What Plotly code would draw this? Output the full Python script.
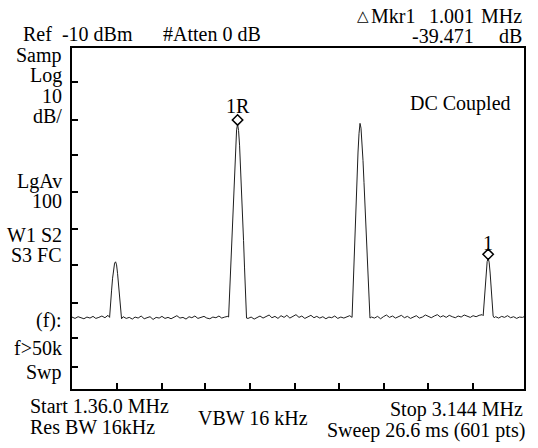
import plotly.graph_objects as go

# ---------------- data ----------------
start_mhz = 1.360
stop_mhz = 3.144
ref_dbm = -10.0
bottom_dbm = -110.0

freq_mhz = [
    1.360, 1.372, 1.384, 1.395, 1.407, 1.419, 1.431, 1.443, 1.454, 1.466, 1.478, 1.490, 1.502,
    1.5084, 1.5124, 1.5163, 1.5202, 1.5241, 1.5281, 1.5320, 1.5359, 1.5399, 1.5438, 1.5477, 1.5517, 1.5556,
    1.562, 1.574, 1.586, 1.598, 1.609, 1.621, 1.633, 1.645, 1.656, 1.668, 1.680, 1.692, 1.704, 1.715,
    1.727, 1.739, 1.751, 1.763, 1.774, 1.786, 1.798, 1.810, 1.822, 1.833, 1.845, 1.857, 1.869, 1.881,
    1.892, 1.904, 1.916, 1.928, 1.940, 1.951, 1.963, 1.975,
    1.9781, 1.9821, 1.9860, 1.9899, 1.9939, 1.9978, 2.0017, 2.0056, 2.0096, 2.0135, 2.0174, 2.0214,
    2.0253, 2.0292, 2.0332, 2.0371, 2.0410, 2.0449, 2.0489,
    2.055, 2.067, 2.079, 2.090, 2.102, 2.114, 2.126, 2.138, 2.149, 2.161, 2.173, 2.185, 2.197, 2.208,
    2.220, 2.232, 2.244, 2.256, 2.267, 2.279, 2.291, 2.303, 2.315, 2.326, 2.338, 2.350, 2.362, 2.374,
    2.385, 2.397, 2.409, 2.421, 2.433, 2.444, 2.456,
    2.4654, 2.4693, 2.4732, 2.4772, 2.4811, 2.4850, 2.4889, 2.4929, 2.4968, 2.5007, 2.5047, 2.5086,
    2.5125, 2.5165, 2.5204, 2.5243, 2.5283, 2.5322, 2.5361,
    2.542, 2.554, 2.566, 2.578, 2.589, 2.601, 2.613, 2.625, 2.637, 2.648, 2.660, 2.672, 2.684, 2.696,
    2.707, 2.719, 2.731, 2.743, 2.755, 2.766, 2.778, 2.790, 2.802, 2.814, 2.825, 2.837, 2.849, 2.861,
    2.873, 2.884, 2.896, 2.908, 2.920, 2.932, 2.943, 2.955, 2.967, 2.979,
    2.9829, 2.9868, 2.9907, 2.9947, 2.9986, 3.0025, 3.0064, 3.0104, 3.0143, 3.0182, 3.0222, 3.0261,
    3.032, 3.044, 3.056, 3.067, 3.079, 3.091, 3.103, 3.115, 3.126, 3.138, 3.144,
]

level_dbm = [
    -88.9, -89.3, -88.8, -89.1, -89.4, -88.9, -89.2, -88.7, -89.3, -89.0, -88.6, -89.1, -88.4,
    -89.0, -86.0, -81.0, -77.5, -74.6, -73.1, -72.7, -73.6, -76.2, -80.0, -84.2, -88.0, -89.4,
    -88.8, -89.3, -89.0, -89.5, -88.9, -89.2, -88.6, -89.4, -89.1, -88.8, -89.6, -89.0, -89.2, -88.7,
    -89.3, -89.0, -89.4, -88.9, -88.5, -89.2, -89.0, -89.5, -88.8, -89.1, -88.6, -89.3, -89.0, -88.7,
    -89.2, -89.4, -88.9, -89.1, -88.6, -89.2, -88.9, -88.7,
    -88.9, -82.0, -74.0, -66.0, -58.0, -51.0, -44.0, -38.0, -34.0, -32.3, -34.2, -38.5,
    -44.5, -51.5, -58.5, -66.5, -74.5, -82.5, -89.2,
    -89.3, -88.9, -89.5, -89.0, -88.6, -89.2, -88.8, -88.3, -89.1, -88.7, -89.3, -88.5, -89.0, -88.4,
    -89.2, -88.8, -88.2, -89.0, -88.6, -89.3, -88.9, -88.4, -89.1, -88.7, -89.2, -88.8, -89.4, -88.9,
    -89.1, -88.6, -89.3, -88.9, -89.2, -88.8, -88.5,
    -89.0, -80.0, -71.0, -62.5, -54.5, -47.0, -40.5, -35.0, -32.1, -33.5, -37.5, -43.0,
    -49.5, -56.5, -63.5, -71.0, -79.0, -86.5, -89.2,
    -88.9, -89.2, -88.7, -89.4, -88.8, -88.3, -89.0, -88.6, -89.2, -88.9, -88.4, -89.1, -88.7, -89.3,
    -88.8, -88.5, -89.2, -88.9, -88.3, -88.7, -89.1, -88.6, -88.2, -88.9, -88.5, -89.0, -88.4, -88.8,
    -89.1, -88.6, -88.9, -88.3, -88.7, -89.0, -88.5, -88.8, -88.4, -88.2,
    -88.5, -84.0, -79.5, -75.5, -72.6, -71.7, -72.8, -76.0, -80.0, -84.5, -88.6, -89.1,
    -88.8, -89.2, -88.7, -89.0, -88.5, -89.1, -88.8, -89.3, -88.9, -89.0, -88.8,
]

marker_labels = ["1R", "1"]
marker_freq_mhz = [2.0135, 3.0025]
marker_level_dbm = [-32.3, -71.7]

# graticule division positions as they appear on the (slightly distorted) screen
xtick_mhz = [1.5368, 1.7137, 1.8866, 2.0634, 2.2402, 2.4131, 2.5899, 2.7668, 2.9436]
ytick_dbm = [-19.97, -31.11, -41.38, -52.23, -63.08, -73.64, -84.78, -95.04, -103.55]

left_labels = ["Samp", "Log", "10", "dB/", "LgAv", "100", "W1 S2", "S3 FC", "(f):", "f>50k", "Swp"]

# ---------------- layout helpers ----------------
W, H = 538, 448
ML, MR, MT, MB = 72, 12, 48, 59
PW, PH = W - ML - MR, H - MT - MB
FONT = "Liberation Serif"
FS = 20
NB = "\u00a0"


def px(x):
    return (x - ML) / PW


def py(y):
    return (MT + PH - y) / PH


annotations = []


def label(text, x, y, xanchor="left", size=FS, family=FONT):
    annotations.append(dict(
        text=text, x=px(x), y=py(y), xref="paper", yref="paper",
        xanchor=xanchor, yanchor="middle", showarrow=False,
        font=dict(family=family, size=size, color="black"),
    ))


# header
label("Ref" + NB + NB + "-10 dBm", 21, 33.5)
label("#Atten 0 dB", 161, 33.5)
label("<b>\u25b3</b>", 364, 16, xanchor="center", size=15, family="DejaVu Sans")
label("Mkr1", 370, 15.5)
label("1.001", 478, 15.5, xanchor="right")
label("MHz", 526, 15.5, xanchor="right")
label("-39.471", 478, 35.5, xanchor="right")
label("dB", 526, 35.5, xanchor="right")
label("DC Coupled", 515, 104, xanchor="right")

# left annotations
left_y = [55.5, 75.5, 95.5, 115.5, 181, 201, 235, 255, 320, 347.5, 372.5]
for t, yy in zip(left_labels, left_y):
    label(t, 64, yy, xanchor="right")

# footer
label("Start 1.36.0 MHz", 28, 406)
label("Res BW 16kHz", 28, 427.5)
label("VBW 16 kHz", 197, 418)
label("Stop 3.144 MHz", 527, 409, xanchor="right")
label("Sweep 26.6 ms (601 pts)", 529, 430.5, xanchor="right")

# marker labels above diamonds
for t, f, l, sh in zip(marker_labels, marker_freq_mhz, marker_level_dbm, [18, 15]):
    annotations.append(dict(
        text=t, x=f, y=l, xref="x", yref="y", xanchor="center", yanchor="middle",
        yshift=sh, showarrow=False, font=dict(family=FONT, size=FS, color="black"),
    ))

marker_offset_db = 1.2

fig = go.Figure()
fig.add_trace(go.Scatter(
    x=freq_mhz, y=level_dbm, mode="lines",
    line=dict(color="#1e1e1e", width=1), hoverinfo="skip", showlegend=False,
))
fig.add_trace(go.Scatter(
    x=marker_freq_mhz, y=[v + marker_offset_db for v in marker_level_dbm], mode="markers",
    marker=dict(symbol="diamond-open", size=8, color="black", line=dict(width=1.5, color="black")),
    hoverinfo="skip", showlegend=False,
))

axis_common = dict(
    showgrid=False, zeroline=False, showticklabels=False,
    showline=True, linecolor="black", linewidth=2, mirror=True,
    ticks="inside", ticklen=6, tickwidth=1.5, tickcolor="black",
)
fig.update_xaxes(range=[start_mhz, stop_mhz], tickvals=xtick_mhz, **axis_common)
fig.update_yaxes(range=[bottom_dbm, ref_dbm], tickvals=ytick_dbm, **axis_common)

fig.update_layout(
    width=W, height=H,
    margin=dict(l=ML, r=MR, t=MT, b=MB, pad=0),
    paper_bgcolor="white", plot_bgcolor="white",
    annotations=annotations,
    font=dict(family=FONT, size=FS, color="black"),
)

fig.write_html(
    "out.html",
    config={"displayModeBar": False},
    post_script="document.body.style.margin='0';document.body.style.padding='0';",
)
